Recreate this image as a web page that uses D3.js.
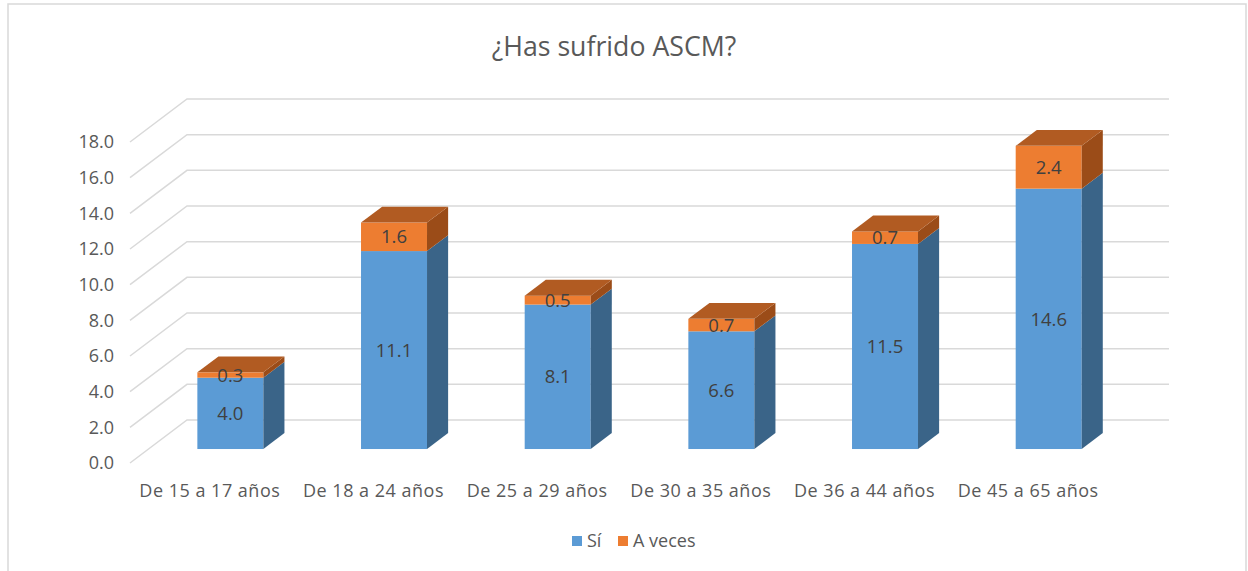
<!DOCTYPE html>
<html><head><meta charset="utf-8">
<script src="https://cdn.jsdelivr.net/npm/d3@7"></script>
<style>body{margin:0;background:#fff}svg{display:block}text{font-family:"Open Sans",sans-serif}</style>
</head><body><svg id="c" width="1248" height="571"></svg>
<script>
const title = "¿Has sufrido ASCM?";
const categories = ["De 15 a 17 años","De 18 a 24 años","De 25 a 29 años","De 30 a 35 años","De 36 a 44 años","De 45 a 65 años"];
const seriesNames = ["Sí","A veces"];
const si = [4.0, 11.1, 8.1, 6.6, 11.5, 14.6];
const aveces = [0.3, 1.6, 0.5, 0.7, 0.7, 2.4];
const yTicks = [0,2,4,6,8,10,12,14,16,18];

const svg = d3.select("#c");
// chart border
svg.append("rect").attr("x",8).attr("y",4).attr("width",1238).attr("height",600)
  .attr("fill","none").attr("stroke","#D9D9D9").attr("stroke-width",1.5);

const DX = 57, DY = -43;              // full depth vector
const x = d3.scaleBand().domain(categories).range([130, 1112]).paddingInner(0).paddingOuter(0);
const y = d3.scaleLinear().domain([0,18]).range([463, 142]);
const fFront = 0.325, fDepth = 0.37;
const barW = 66;

// gridlines (left wall diagonal + back wall horizontal)
const g = svg.append("g");
yTicks.forEach(t => {
  const yf = y(t);
  g.append("path").attr("d", `M130,${yf}L${130+DX},${yf+DY}L${1112+DX},${yf+DY}`)
    .attr("fill","none").attr("stroke","#D9D9D9").attr("stroke-width",1.5);
});
// y labels
svg.append("g").selectAll("text").data(yTicks).join("text")
  .attr("x",114).attr("y",d=>y(d)).attr("dy","0.36em").attr("text-anchor","end")
  .attr("font-size",18).attr("fill","#595959").text(d=>d.toFixed(1));

// category labels
svg.append("g").selectAll("text").data(categories).join("text")
  .attr("x",d=>x(d)+x.bandwidth()/2 - 2).attr("y",491).attr("dy","0.36em").attr("text-anchor","middle")
  .attr("font-size",18).attr("letter-spacing","0.5px").attr("fill","#595959").text(d=>d);

const colors = [
  {front:"#5B9BD5", side:"#3A6488", top:"#4A7EAE"},
  {front:"#ED7D31", side:"#9B4C18", top:"#B15B22"}
];
const ox = fFront*DX, oy = fFront*DY, bx = fDepth*DX, by = fDepth*DY;
const bars = svg.append("g");
categories.forEach((c,i) => {
  const vals = [si[i], aveces[i]];
  let base = 0;
  const cx = x(c) + x.bandwidth()/2 + ox;
  const x0 = cx - barW/2, x1 = cx + barW/2;
  vals.forEach((v,k) => {
    const yb = y(base) + oy, yt = y(base+v) + oy;
    const col = colors[k];
    bars.append("rect").attr("x",x0).attr("y",yt).attr("width",barW).attr("height",yb-yt).attr("fill",col.front);
    bars.append("path").attr("d",`M${x1},${yb}L${x1+bx},${yb+by}L${x1+bx},${yt+by}L${x1},${yt}Z`).attr("fill",col.side);
    if (k === vals.length-1) {
      bars.append("path").attr("d",`M${x0},${yt}L${x0+bx},${yt+by}L${x1+bx},${yt+by}L${x1},${yt}Z`).attr("fill",col.top);
    }
    bars.append("text").attr("x",cx).attr("y",(yb+yt)/2).attr("dy","0.36em").attr("text-anchor","middle")
      .attr("font-size",18.5).attr("fill","#404040").text(v.toFixed(1));
    base += v;
  });
});

// title
svg.append("text").attr("x",614).attr("y",46).attr("dy","0.36em").attr("text-anchor","middle")
  .attr("font-size",26.7).attr("fill","#595959").text(title);

// legend
const leg = svg.append("g");
const legItems = [{name:seriesNames[0], color:colors[0].front, x:572},{name:seriesNames[1], color:colors[1].front, x:618}];
legItems.forEach(d => {
  leg.append("rect").attr("x",d.x).attr("y",536).attr("width",10).attr("height",10).attr("fill",d.color);
  leg.append("text").attr("x",d.x+15).attr("y",541).attr("dy","0.36em").attr("font-size",18).attr("fill","#595959").text(d.name);
});
</script></body></html>
